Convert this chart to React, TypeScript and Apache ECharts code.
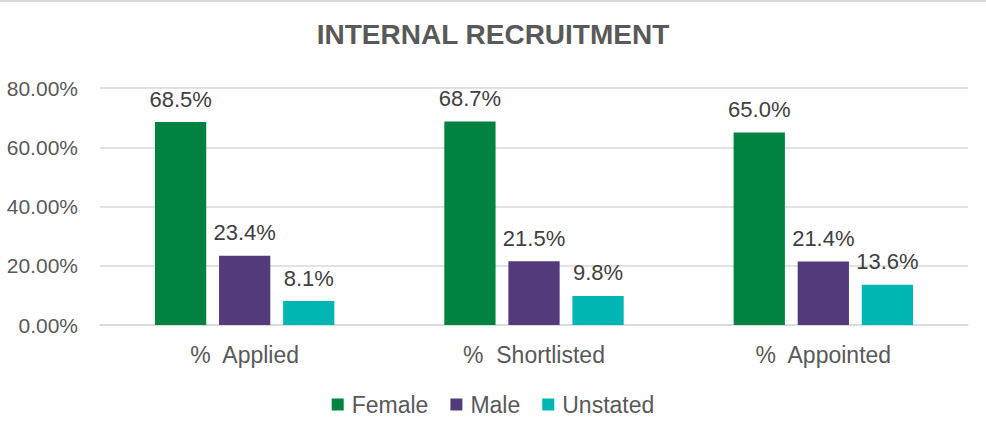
import React, { useEffect, useRef } from "react";
import * as echarts from "echarts";

const categories = ["%  Applied", "%  Shortlisted", "%  Appointed"];
const female = [68.5, 68.7, 65.0];
const male = [23.4, 21.5, 21.4];
const unstated = [8.1, 9.8, 13.6];
const seriesNames = ["Female", "Male", "Unstated"];
const colors = ["#008240", "#533A7B", "#00B6B2"];

export default function App() {
  const ref = useRef<HTMLDivElement>(null);
  useEffect(() => {
    document.body.style.margin = "0";
    const chart = echarts.init(ref.current!, undefined, { renderer: "svg" });
    const data = [female, male, unstated];
    chart.setOption({
      animation: false,
      backgroundColor: "#ffffff",
      title: {
        text: "INTERNAL RECRUITMENT",
        left: "center",
        top: 15,
        textStyle: {
          fontFamily: "Liberation Sans",
          fontWeight: "bold",
          fontSize: 28,
          color: "#595959",
        },
      },
      graphic: [
        {
          type: "line",
          shape: { x1: 0, y1: 1, x2: 986, y2: 1 },
          style: { stroke: "#d9d9d9", lineWidth: 2 },
        },
      ],
      legend: {
        bottom: 16,
        left: "center",
        icon: "rect",
        itemWidth: 12,
        itemHeight: 12,
        itemGap: 22,
        textStyle: { fontFamily: "Liberation Sans", fontSize: 23, color: "#595959", padding: [0, 0, 0, 3] },
        data: seriesNames,
      },
      grid: { left: 100, right: 18, top: 88, bottom: 112 },
      xAxis: {
        type: "category",
        data: categories,
        axisLine: { lineStyle: { color: "#d9d9d9", width: 1.5 } },
        axisTick: { show: false },
        axisLabel: { fontFamily: "Liberation Sans", fontSize: 23, color: "#595959", margin: 18 },
      },
      yAxis: {
        type: "value",
        min: 0,
        max: 80,
        interval: 20,
        axisLine: { show: false },
        axisTick: { show: false },
        splitLine: { lineStyle: { color: "#d9d9d9", width: 1.5 } },
        axisLabel: {
          fontFamily: "Liberation Sans",
          fontSize: 21,
          color: "#595959",
          margin: 22,
          formatter: (v: number) => v.toFixed(2) + "%",
        },
      },
      series: seriesNames.map((name, i) => ({
        name,
        type: "bar",
        data: data[i],
        itemStyle: { color: colors[i] },
        barGap: "25%",
        barCategoryGap: "38%",
        label: {
          show: true,
          position: "top",
          distance: 12,
          fontFamily: "Liberation Sans",
          fontSize: 22,
          color: "#404040",
          formatter: (p: any) => p.value.toFixed(1) + "%",
        },
      })),
    });
    return () => chart.dispose();
  }, []);
  return (
    <div
      ref={ref}
      style={{ position: "absolute", left: 0, top: 0, width: 986, height: 437 }}
    />
  );
}
